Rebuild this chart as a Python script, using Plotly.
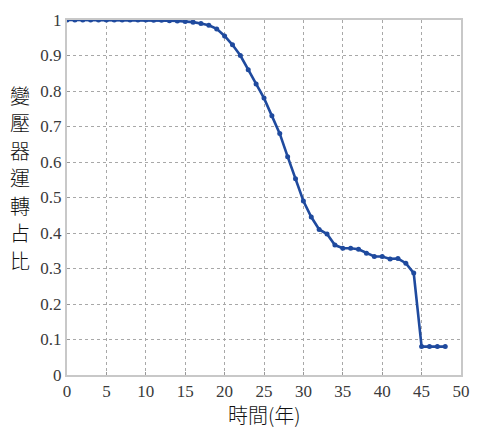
import plotly.graph_objects as go

# Year index and share of transformers still in service
years = list(range(0, 49))
share = [
    1.0, 1.0, 1.0, 1.0, 1.0, 1.0, 1.0, 1.0, 1.0, 1.0,
    1.0, 0.999, 0.999, 0.998, 0.997, 0.996, 0.994, 0.99, 0.985, 0.975,
    0.955, 0.93, 0.9, 0.86, 0.82, 0.78, 0.73, 0.68, 0.615, 0.553,
    0.49, 0.445, 0.41, 0.397, 0.366, 0.357, 0.357, 0.354, 0.343, 0.334,
    0.334, 0.327, 0.328, 0.315, 0.287, 0.08, 0.08, 0.08, 0.08,
]

x_ticks = [0, 5, 10, 15, 20, 25, 30, 35, 40, 45, 50]
y_ticks = [0, 0.1, 0.2, 0.3, 0.4, 0.5, 0.6, 0.7, 0.8, 0.9, 1]
y_tick_text = ["0", "0.1", "0.2", "0.3", "0.4", "0.5", "0.6", "0.7", "0.8", "0.9", "1"]

x_title = "時間(年)"
y_title = "變壓器運轉占比"

line_color = "#1f4a9e"
tick_font = dict(family="Times New Roman, Liberation Serif, DejaVu Serif, serif",
                 size=17, color="#3a3a3a")
cjk_font = dict(family="Noto Sans CJK TC", size=20, color="#111111", weight=300)

fig = go.Figure()
fig.add_trace(go.Scatter(
    x=years, y=share, mode="lines+markers",
    line=dict(color=line_color, width=2.6),
    marker=dict(color=line_color, size=5),
    showlegend=False,
))

axis_common = dict(
    showgrid=True, gridcolor="#a8a8a8", griddash="dot", gridwidth=1,
    showline=True, linecolor="#c8c8c8", linewidth=2, mirror=True,
    zeroline=False, ticks="inside", ticklen=3, tickcolor="#999999",
    tickfont=tick_font,
)

fig.update_xaxes(range=[0, 50], tickvals=x_ticks, **axis_common)
fig.update_yaxes(range=[0, 1], tickvals=y_ticks, ticktext=y_tick_text, **axis_common)

# Horizontal-axis label
fig.add_annotation(
    text=x_title, xref="paper", yref="paper", x=0.5, y=0, yshift=-39,
    xanchor="center", yanchor="middle", showarrow=False, font=cjk_font,
)

# Vertical-axis label, one character per row, stacked top to bottom
plot_top, plot_h = 13, 362
first_row_px, row_step_px = 90, 28
for i, ch in enumerate(y_title):
    row_px = first_row_px + i * row_step_px
    fig.add_annotation(
        text=ch, xref="paper", yref="paper", x=0,
        y=1 - (row_px - plot_top) / plot_h,
        xshift=-47, xanchor="center", yanchor="middle", showarrow=False,
        font=cjk_font,
    )

fig.update_layout(
    width=481, height=429,
    margin=dict(l=67, r=11, t=13, b=54),
    paper_bgcolor="white", plot_bgcolor="white",
)

fig.write_html("out.html")
